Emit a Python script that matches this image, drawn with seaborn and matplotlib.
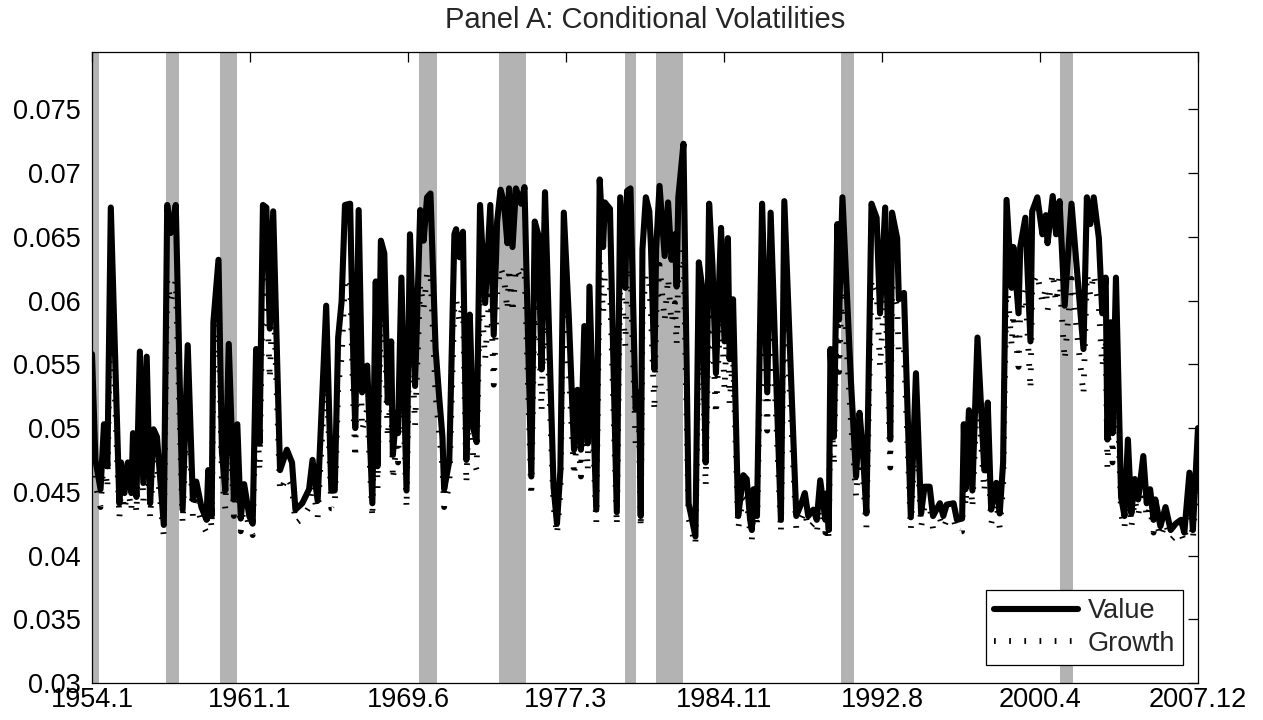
import numpy as np
import pandas as pd
import matplotlib
matplotlib.use('Agg')
import matplotlib.pyplot as plt
import seaborn as sns

# ── data (month index 1 = 1954.1) ──
months = [
    1, 3, 6, 8, 10, 12, 17, 18, 20, 22,
    24, 25, 27, 29, 31, 33, 35, 37, 39, 43,
    45, 47, 50, 54, 57, 60, 62, 65, 68, 69,
    71, 72, 75, 77, 79, 81, 84, 86, 88, 90,
    93, 95, 97, 99, 101, 103, 105, 107, 111, 115,
    118, 120, 124, 128, 130, 133, 138, 141, 143, 145,
    147, 149, 152, 154, 155, 157, 159, 162, 165, 167,
    168, 170, 172, 174, 176, 177, 179, 180, 182, 185,
    187, 190, 193, 195, 197, 199, 202, 204, 206, 207,
    210, 213, 214, 216, 218, 220, 222, 224, 226, 228,
    231, 234, 236, 238, 240, 242, 244, 245, 247, 249,
    252, 254, 258, 260, 262, 264, 266, 271, 273, 275,
    277, 280, 283, 285, 287, 289, 291, 292, 296, 298,
    300, 301, 304, 308, 310, 313, 314, 316, 319, 321,
    322, 323, 325, 327, 328, 330, 331, 333, 336, 338,
    340, 342, 343, 344, 347, 350, 354, 356, 358, 360,
    362, 364, 366, 369, 371, 373, 374, 376, 379, 382,
    384, 386, 387, 388, 390, 393, 396, 398, 404, 406,
    413, 416, 418, 420, 423, 425, 427, 430, 431, 432,
    433, 435, 437, 438, 440, 445, 448, 450, 452, 454,
    457, 460, 462, 465, 468, 469, 472, 473, 476, 480,
    483, 486, 488, 491, 493, 497, 499, 501, 505, 507,
    510, 511, 512, 514, 516, 519, 523, 525, 527, 530,
    532, 534, 536, 539, 540, 543, 544, 547, 550, 551,
    554, 557, 559, 560, 563, 565, 567, 570, 574, 581,
    583, 585, 587, 590, 592, 594, 595, 597, 598, 600,
    603, 605, 607, 609, 611, 613, 616, 618, 620, 622,
    623, 626, 629, 632, 635, 638, 640, 643, 645, 648,
]

value_vol = [
    0.0558, 0.0475, 0.0452, 0.0503, 0.0470, 0.0673, 0.0441, 0.0473, 0.0449, 0.0473,
    0.0449, 0.0496, 0.0446, 0.0560, 0.0457, 0.0556, 0.0441, 0.0499, 0.0493, 0.0424,
    0.0675, 0.0653, 0.0675, 0.0436, 0.0565, 0.0444, 0.0458, 0.0438, 0.0428, 0.0467,
    0.0431, 0.0583, 0.0632, 0.0481, 0.0451, 0.0566, 0.0444, 0.0503, 0.0429, 0.0456,
    0.0431, 0.0425, 0.0562, 0.0488, 0.0675, 0.0673, 0.0578, 0.0670, 0.0467, 0.0483,
    0.0473, 0.0436, 0.0441, 0.0452, 0.0475, 0.0443, 0.0596, 0.0451, 0.0451, 0.0571,
    0.0599, 0.0675, 0.0676, 0.0546, 0.0500, 0.0671, 0.0528, 0.0549, 0.0441, 0.0615,
    0.0470, 0.0647, 0.0637, 0.0520, 0.0568, 0.0479, 0.0512, 0.0496, 0.0618, 0.0451,
    0.0652, 0.0533, 0.0671, 0.0647, 0.0681, 0.0684, 0.0562, 0.0526, 0.0493, 0.0452,
    0.0474, 0.0652, 0.0656, 0.0634, 0.0654, 0.0475, 0.0589, 0.0500, 0.0489, 0.0675,
    0.0598, 0.0675, 0.0573, 0.0662, 0.0687, 0.0677, 0.0645, 0.0688, 0.0642, 0.0688,
    0.0676, 0.0689, 0.0462, 0.0662, 0.0652, 0.0546, 0.0685, 0.0454, 0.0425, 0.0467,
    0.0669, 0.0585, 0.0483, 0.0530, 0.0483, 0.0580, 0.0488, 0.0611, 0.0436, 0.0695,
    0.0642, 0.0677, 0.0672, 0.0434, 0.0681, 0.0610, 0.0686, 0.0688, 0.0515, 0.0528,
    0.0431, 0.0640, 0.0681, 0.0670, 0.0642, 0.0546, 0.0640, 0.0690, 0.0635, 0.0677,
    0.0632, 0.0652, 0.0611, 0.0681, 0.0723, 0.0441, 0.0415, 0.0630, 0.0610, 0.0473,
    0.0676, 0.0627, 0.0543, 0.0657, 0.0568, 0.0649, 0.0554, 0.0601, 0.0431, 0.0463,
    0.0460, 0.0428, 0.0420, 0.0452, 0.0431, 0.0676, 0.0528, 0.0669, 0.0428, 0.0678,
    0.0431, 0.0441, 0.0449, 0.0431, 0.0436, 0.0428, 0.0459, 0.0428, 0.0449, 0.0420,
    0.0562, 0.0493, 0.0660, 0.0585, 0.0681, 0.0536, 0.0462, 0.0512, 0.0481, 0.0433,
    0.0676, 0.0665, 0.0590, 0.0673, 0.0491, 0.0669, 0.0649, 0.0601, 0.0606, 0.0430,
    0.0543, 0.0433, 0.0454, 0.0454, 0.0431, 0.0441, 0.0431, 0.0440, 0.0441, 0.0428,
    0.0429, 0.0503, 0.0452, 0.0514, 0.0451, 0.0571, 0.0467, 0.0520, 0.0436, 0.0457,
    0.0433, 0.0473, 0.0679, 0.0610, 0.0642, 0.0590, 0.0642, 0.0665, 0.0568, 0.0670,
    0.0681, 0.0652, 0.0667, 0.0645, 0.0682, 0.0652, 0.0678, 0.0596, 0.0676, 0.0562,
    0.0681, 0.0660, 0.0681, 0.0649, 0.0590, 0.0618, 0.0491, 0.0583, 0.0496, 0.0618,
    0.0446, 0.0431, 0.0491, 0.0433, 0.0460, 0.0444, 0.0478, 0.0441, 0.0452, 0.0428,
    0.0444, 0.0423, 0.0438, 0.0420, 0.0425, 0.0428, 0.0418, 0.0465, 0.0420, 0.0500,
]

growth_vol = [
    0.0522, 0.0456, 0.0438, 0.0478, 0.0452, 0.0614, 0.0429, 0.0454, 0.0435, 0.0454,
    0.0435, 0.0473, 0.0433, 0.0524, 0.0442, 0.0521, 0.0429, 0.0475, 0.0470, 0.0415,
    0.0616, 0.0598, 0.0616, 0.0425, 0.0528, 0.0431, 0.0442, 0.0426, 0.0418, 0.0450,
    0.0421, 0.0542, 0.0582, 0.0461, 0.0437, 0.0529, 0.0431, 0.0478, 0.0419, 0.0441,
    0.0421, 0.0416, 0.0526, 0.0466, 0.0616, 0.0614, 0.0538, 0.0612, 0.0450, 0.0462,
    0.0454, 0.0425, 0.0429, 0.0438, 0.0456, 0.0430, 0.0553, 0.0437, 0.0437, 0.0533,
    0.0555, 0.0616, 0.0617, 0.0513, 0.0476, 0.0613, 0.0498, 0.0515, 0.0429, 0.0568,
    0.0452, 0.0594, 0.0586, 0.0492, 0.0530, 0.0459, 0.0486, 0.0473, 0.0570, 0.0437,
    0.0598, 0.0502, 0.0613, 0.0594, 0.0621, 0.0623, 0.0526, 0.0497, 0.0470, 0.0438,
    0.0455, 0.0598, 0.0601, 0.0583, 0.0599, 0.0456, 0.0547, 0.0476, 0.0467, 0.0616,
    0.0554, 0.0616, 0.0534, 0.0606, 0.0626, 0.0618, 0.0592, 0.0626, 0.0590, 0.0626,
    0.0617, 0.0627, 0.0446, 0.0606, 0.0598, 0.0513, 0.0624, 0.0439, 0.0416, 0.0450,
    0.0611, 0.0544, 0.0462, 0.0500, 0.0462, 0.0540, 0.0466, 0.0565, 0.0425, 0.0632,
    0.0590, 0.0618, 0.0614, 0.0423, 0.0621, 0.0564, 0.0625, 0.0626, 0.0488, 0.0498,
    0.0421, 0.0588, 0.0621, 0.0612, 0.0590, 0.0513, 0.0588, 0.0628, 0.0584, 0.0618,
    0.0582, 0.0598, 0.0565, 0.0621, 0.0640, 0.0429, 0.0408, 0.0580, 0.0564, 0.0454,
    0.0617, 0.0578, 0.0510, 0.0602, 0.0530, 0.0595, 0.0519, 0.0557, 0.0421, 0.0446,
    0.0444, 0.0418, 0.0412, 0.0438, 0.0421, 0.0617, 0.0498, 0.0611, 0.0418, 0.0618,
    0.0421, 0.0429, 0.0435, 0.0421, 0.0425, 0.0418, 0.0443, 0.0418, 0.0435, 0.0412,
    0.0526, 0.0470, 0.0604, 0.0544, 0.0621, 0.0505, 0.0446, 0.0486, 0.0461, 0.0422,
    0.0617, 0.0608, 0.0548, 0.0614, 0.0469, 0.0611, 0.0595, 0.0557, 0.0561, 0.0420,
    0.0510, 0.0422, 0.0439, 0.0439, 0.0421, 0.0429, 0.0421, 0.0428, 0.0429, 0.0418,
    0.0419, 0.0478, 0.0438, 0.0487, 0.0437, 0.0533, 0.0450, 0.0492, 0.0425, 0.0442,
    0.0422, 0.0454, 0.0619, 0.0564, 0.0590, 0.0548, 0.0590, 0.0608, 0.0530, 0.0612,
    0.0621, 0.0598, 0.0610, 0.0592, 0.0622, 0.0598, 0.0618, 0.0553, 0.0617, 0.0526,
    0.0621, 0.0604, 0.0621, 0.0595, 0.0548, 0.0570, 0.0469, 0.0542, 0.0473, 0.0570,
    0.0433, 0.0421, 0.0469, 0.0422, 0.0444, 0.0431, 0.0458, 0.0429, 0.0438, 0.0418,
    0.0431, 0.0414, 0.0426, 0.0412, 0.0416, 0.0418, 0.0410, 0.0448, 0.0412, 0.0476,
]

# NBER recessions as month indices
rec_start = [1, 44, 76, 192, 239, 313, 331, 439, 567]
rec_end = [5, 52, 86, 203, 255, 319, 347, 447, 575]

tick_labels = ['1954.1', '1961.1', '1969.6', '1977.3', '1984.11', '1992.8', '2000.4', '2007.12']
y_ticks = [0.03, 0.035, 0.04, 0.045, 0.05, 0.055, 0.06, 0.065, 0.07, 0.075]

assert len(months) == len(value_vol) == len(growth_vol)

df = pd.DataFrame({'month': months, 'Value': value_vol, 'Growth': growth_vol})

# ── style ──
sns.set_style('white')
plt.rcParams['font.family'] = ['Liberation Sans', 'DejaVu Sans']

fig = plt.figure(figsize=(12.63, 7.2), dpi=100)
ax = fig.add_axes([92/1263, 1-683/720, (1198-92)/1263, (683-52)/720])

for s, e in zip(rec_start, rec_end):
    ax.axvspan(s, e, color='#b3b3b3', lw=0, zorder=0)

sns.lineplot(data=df, x='month', y='Value', ax=ax, color='black', lw=4.4,
             estimator=None, label='Value', solid_joinstyle='round', zorder=3)
sns.lineplot(data=df, x='month', y='Growth', ax=ax, color='black', lw=4.2,
             estimator=None, label='Growth', linestyle=(0, (0.3, 2.3)),
             dash_capstyle='butt', zorder=2)

ax.set_xlim(1, 648)
ax.set_ylim(0.03, 0.0795)
ax.set_xticks(np.linspace(1, 648, len(tick_labels)))
ax.set_xticklabels(tick_labels)
ax.set_yticks(y_ticks)
ax.set_yticklabels([f'{t:g}' for t in y_ticks])
ax.set_xlabel('')
ax.set_ylabel('')

ax.tick_params(direction='in', top=True, right=True, length=7, width=0.9,
               labelsize=19.5, colors='black')
ax.tick_params(axis='x', pad=3)
ax.tick_params(axis='y', pad=8)
for sp in ax.spines.values():
    sp.set_visible(True)
    sp.set_color('black')
    sp.set_linewidth(0.9)

leg = ax.legend(loc='lower right', bbox_to_anchor=(0.9864, 0.0284), borderaxespad=0,
                fontsize=19.5, frameon=True, fancybox=False, framealpha=1,
                edgecolor='black', handlelength=3.1, handletextpad=0.35,
                labelspacing=0.25, borderpad=0.3)
leg.get_frame().set_linewidth(0.9)

fig.text(645/1263, 1-20/720, 'Panel A: Conditional Volatilities', ha='center', va='center',
         fontsize=21)

fig.savefig('out.png', dpi=100)
